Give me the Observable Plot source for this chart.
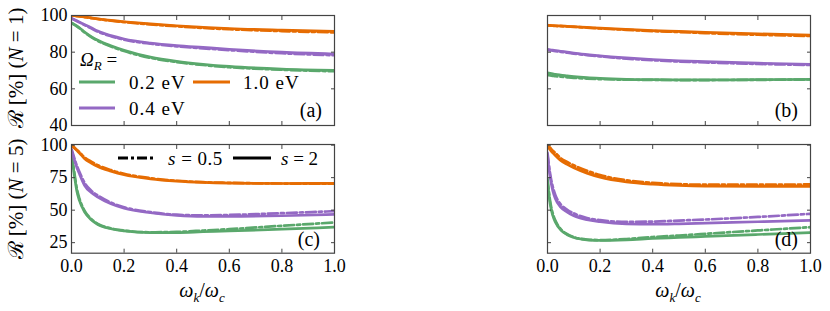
<!DOCTYPE html>
<html><head><meta charset="utf-8">
<script src="https://cdn.jsdelivr.net/npm/d3@7"></script>
<script src="https://cdn.jsdelivr.net/npm/@observablehq/plot@0.6"></script>
<style>
body{margin:0;background:#fff;}
#fig{position:relative;width:830px;height:311px;font-family:"Liberation Serif","Times New Roman","DejaVu Serif",serif;color:#000;overflow:hidden;background:#fff}
.pl{position:absolute}
.pl text{font-family:"Liberation Serif","Times New Roman","DejaVu Serif",serif !important}
.t{position:absolute;white-space:nowrap;font-size:19px;line-height:1;font-family:"Liberation Serif","Times New Roman","DejaVu Serif",serif}
</style></head><body><div id="fig"></div>
<script>
// ---------- data ----------
const xs = [0, 0.01, 0.02, 0.03, 0.05, 0.075, 0.1, 0.15, 0.2, 0.3, 0.4, 0.5, 0.6, 0.8, 1.0];
const xTicks = [0, 0.2, 0.4, 0.6, 0.8, 1.0];
const yTicksTop = [40, 60, 80, 100];
const yTicksBottom = [25, 50, 75, 100];
const omegaLabels = ["0.2 eV", "0.4 eV", "1.0 eV"];
const sLabels = ["s = 0.5", "s = 2"];
const panelLetters = ["(a)", "(b)", "(c)", "(d)"];

// panel (a): N = 1, s = 2 (solid) and s = 0.5 (dash-dot)
const a_green_s2   = [96, 95.2, 94.3, 93.3, 91, 88.5, 86.5, 83.5, 81, 77.3, 75, 73.4, 72.2, 70.8, 70.1];
const a_green_s05  = [95.8, 95, 94.1, 93.1, 90.7, 88.2, 86.2, 83.1, 80.6, 76.9, 74.6, 73, 71.8, 70.4, 69.6];
const a_purple_s2  = [98.5, 97.8, 97.1, 96.4, 95, 93.3, 91.5, 89, 87.2, 85, 83.6, 82.6, 81.6, 80, 79];
const a_purple_s05 = [98.4, 97.7, 97, 96.3, 94.8, 93, 91.2, 88.7, 86.8, 84.6, 83.2, 82.1, 81.1, 79.4, 78.3];
const a_orange_s2  = [100, 99.9, 99.8, 99.6, 99.2, 98.7, 98.2, 97.3, 96.6, 95.4, 94.4, 93.6, 92.9, 92, 91.3];
const a_orange_s05 = [100, 99.9, 99.7, 99.5, 99.1, 98.6, 98.1, 97.2, 96.4, 95.1, 94.1, 93.2, 92.5, 91.5, 90.8];
// panel (b)
const b_green_s2   = [68.8, 68.5, 68.2, 67.9, 67.5, 67.1, 66.7, 66.1, 65.7, 65.2, 65, 64.9, 64.9, 65, 65.2];
const b_green_s05  = [67.5, 67.3, 67.1, 66.9, 66.6, 66.3, 66, 65.6, 65.3, 65, 64.9, 64.8, 64.8, 64.9, 65.1];
const b_purple_s2  = [81.5, 81.3, 81.1, 80.9, 80.5, 80, 79.5, 78.7, 78, 76.9, 76, 75.3, 74.8, 74, 73.4];
const b_purple_s05 = [81.2, 81, 80.8, 80.6, 80.2, 79.7, 79.2, 78.4, 77.7, 76.5, 75.6, 74.9, 74.4, 73.6, 73];
const b_orange_s2  = [94.7, 94.6, 94.5, 94.4, 94.3, 94.1, 93.9, 93.5, 93.1, 92.4, 91.8, 91.3, 90.8, 90, 89.3];
const b_orange_s05 = [94.6, 94.5, 94.4, 94.3, 94.2, 94, 93.8, 93.4, 92.9, 92.2, 91.5, 91, 90.4, 89.5, 88.8];
// panel (c): N = 5
const c_green_s2   = [93.5, 78, 65, 57.5, 48.5, 42.6, 39, 35.7, 34.1, 32.8, 32.8, 33.4, 34, 35.4, 36.9];
const c_green_s05  = [94, 80, 67, 59, 49.5, 43.2, 39.5, 36, 34.3, 33, 33.3, 34.3, 35.4, 38, 40.5];
const c_purple_s2  = [96, 89, 83, 78, 69, 63.5, 60, 54.9, 51.5, 48, 46, 45.2, 45.2, 45.7, 46.7];
const c_purple_s05 = [97, 90.5, 84.5, 79.5, 71, 65, 61.3, 55.8, 52.2, 48.5, 46.5, 46, 46.3, 47.7, 49.2];
const c_orange_s2  = [100, 98, 96, 94, 89.5, 86.3, 83.6, 80, 77.2, 74.1, 72.3, 71.3, 70.8, 70.5, 70.6];
const c_orange_s05 = [100, 98.3, 96.5, 94.7, 90.5, 87.3, 84.6, 80.8, 78, 74.6, 72.6, 71.5, 71, 70.5, 70.3];
// panel (d)
const d_green_s2   = [72, 54.9, 45.9, 40.8, 34.9, 31.1, 29, 27.2, 26.7, 27.2, 28.2, 29, 29.8, 31.3, 32.8];
const d_green_s05  = [74, 57, 47.5, 42, 35.5, 31.5, 29.3, 27.4, 27, 27.8, 29.3, 30.5, 31.8, 34.4, 36.9];
const d_purple_s2  = [92, 75.4, 65, 58.8, 52.3, 48.5, 45.7, 42.6, 41.1, 39.5, 39.2, 39.5, 40, 41.1, 42.1];
const d_purple_s05 = [94, 78, 68, 61.5, 54.5, 50.3, 47.5, 44, 42.3, 41, 41.2, 42, 42.8, 44.8, 47.2];
const d_orange_s2  = [99, 96.5, 94, 92, 88.2, 85.2, 82.6, 78.5, 75.4, 71.8, 70, 69, 68.5, 68.3, 68.3];
const d_orange_s05 = [100, 98, 95.8, 94, 90, 87, 84.5, 80.3, 77, 73, 71, 70, 69.6, 69.6, 69.8];

// ---------- styles ----------
const GREEN = "#5aa86c", PURPLE = "#9469c4", ORANGE = "#e66c02";
const FRAME = "#444";
const LW = 2.7;
const DASHDOT = "10,3,3,3";
const SERIF = "'Liberation Serif','Times New Roman','DejaVu Serif',serif";
const TICKFONT = 18;

const fig = document.getElementById("fig");

function panel(opts) {
  const {series, yDomain, yTicks, left, top, height, mt, mb, showY, showX} = opts;
  const marks = [];
  for (const s of series) {
    const data = xs.map((x, i) => ({x, y: s.vals[i]}));
    marks.push(Plot.line(data, {x: "x", y: "y", stroke: s.color, strokeWidth: LW,
      strokeDasharray: s.dash ? DASHDOT : null, curve: "monotone-x", clip: true}));
  }
  marks.push(Plot.frame({stroke: FRAME, strokeWidth: 1.2}));
  marks.push(Plot.axisX({anchor: "bottom", ticks: xTicks, tickSize: -4, tickPadding: 10, stroke: FRAME,
    tickFormat: showX ? (d => d.toFixed(1)) : (() => ""), label: null, fontSize: TICKFONT, fontFamily: SERIF}));
  marks.push(Plot.axisX({anchor: "top", ticks: xTicks, tickSize: -4, stroke: FRAME, tickFormat: () => "", label: null}));
  marks.push(Plot.axisY({anchor: "left", ticks: yTicks, tickSize: -4, tickPadding: 8, stroke: FRAME,
    tickFormat: showY ? (d => String(d)) : (() => ""), label: null, fontSize: TICKFONT, fontFamily: SERIF}));
  marks.push(Plot.axisY({anchor: "right", ticks: yTicks, tickSize: -4, stroke: FRAME, tickFormat: () => "", label: null}));
  const p = Plot.plot({
    width: 360, height, marginLeft: 71, marginRight: 26, marginTop: mt, marginBottom: mb,
    x: {domain: [0, 1]}, y: {domain: yDomain},
    style: {fontFamily: SERIF, fontSize: TICKFONT + "px", color: "#000", background: "transparent", overflow: "visible"},
    marks
  });
  p.classList.add("pl");
  p.style.left = left + "px"; p.style.top = top + "px";
  fig.appendChild(p);
}

function ser(g2, g05, p2, p05, o2, o05) {
  return [
    {vals: g05, color: GREEN, dash: true}, {vals: g2, color: GREEN, dash: false},
    {vals: p05, color: PURPLE, dash: true}, {vals: p2, color: PURPLE, dash: false},
    {vals: o05, color: ORANGE, dash: true}, {vals: o2, color: ORANGE, dash: false}
  ];
}

const topRow = {yDomain: [40, 100], yTicks: yTicksTop, top: 0, height: 145, mt: 15, mb: 20};
const botRow = {yDomain: [16.9, 100.5], yTicks: yTicksBottom, top: 130, height: 181, mt: 14, mb: 58.3};

panel({...topRow, left: 0, showY: true, showX: false, series: ser(a_green_s2, a_green_s05, a_purple_s2, a_purple_s05, a_orange_s2, a_orange_s05)});
panel({...topRow, left: 476, showY: false, showX: false, series: ser(b_green_s2, b_green_s05, b_purple_s2, b_purple_s05, b_orange_s2, b_orange_s05)});
panel({...botRow, left: 0, showY: true, showX: true, series: ser(c_green_s2, c_green_s05, c_purple_s2, c_purple_s05, c_orange_s2, c_orange_s05)});
panel({...botRow, left: 476, showY: false, showX: true, series: ser(d_green_s2, d_green_s05, d_purple_s2, d_purple_s05, d_orange_s2, d_orange_s05)});

// ---------- text overlays ----------
function text(html, x, y, anchor = "start", extra = "") {
  const d = document.createElement("div");
  d.className = "t";
  d.innerHTML = html;
  const tx = anchor === "start" ? "0" : anchor === "end" ? "-100%" : "-50%";
  d.style.cssText = `left:${x}px;top:${y}px;transform:translate(${tx},-50%);${extra}`;
  fig.appendChild(d);
  return d;
}
function swatch(x1, x2, y, color, dash) {
  const svg = d3.create("svg").attr("width", x2 - x1).attr("height", 8)
    .style("position", "absolute").style("left", x1 + "px").style("top", (y - 4) + "px");
  svg.append("line").attr("x1", 0).attr("x2", x2 - x1).attr("y1", 4).attr("y2", 4)
    .attr("stroke", color).attr("stroke-width", 3).attr("stroke-dasharray", dash ? DASHDOT : null);
  fig.appendChild(svg.node());
}

// y axis titles (rotated)
function ytitle(html, cx, cy) {
  const d = document.createElement("div");
  d.className = "t";
  d.innerHTML = html;
  d.style.cssText = `left:${cx}px;top:${cy}px;transform:translate(-50%,-50%) rotate(-90deg);font-size:21px`;
  fig.appendChild(d);
}
ytitle("ℛ [%] (<i>N</i> = 1)", 16, 68);
ytitle("ℛ [%] (<i>N</i> = 5)", 16, 199);

// x axis titles
const xlab = "<i>ω</i><sub style='font-size:13px'><i>k</i></sub>/<i>ω</i><sub style='font-size:13px'><i>c</i></sub>";
text(xlab, 202, 292, "middle", "font-size:20px");
text(xlab, 678, 292, "middle", "font-size:20px");

// panel letters
text(panelLetters[0], 322, 110, "end", "font-size:20px");
text(panelLetters[1], 798, 110, "end", "font-size:20px");
text(panelLetters[2], 320, 239, "end", "font-size:20px");
text(panelLetters[3], 798, 239, "end", "font-size:20px");

// legend (a)
text("<i>Ω</i><sub style='font-size:13px'><i>R</i></sub> =", 80, 61, "start");
swatch(79, 115, 82, GREEN, false);
text(omegaLabels[0], 129, 82, "start", "letter-spacing:1px");
swatch(193, 230, 82, ORANGE, false);
text(omegaLabels[2], 243, 82, "start", "letter-spacing:1px");
swatch(79, 115, 108, PURPLE, false);
text(omegaLabels[1], 129, 108, "start", "letter-spacing:1px");

// legend (c)
swatch(118, 154, 158, "#000", true);
text("<i>s</i> = 0.5", 168, 158, "start", "letter-spacing:0.5px");
swatch(233, 271, 158, "#000", false);
text("<i>s</i> = 2", 281, 158, "start");
</script></body></html>
